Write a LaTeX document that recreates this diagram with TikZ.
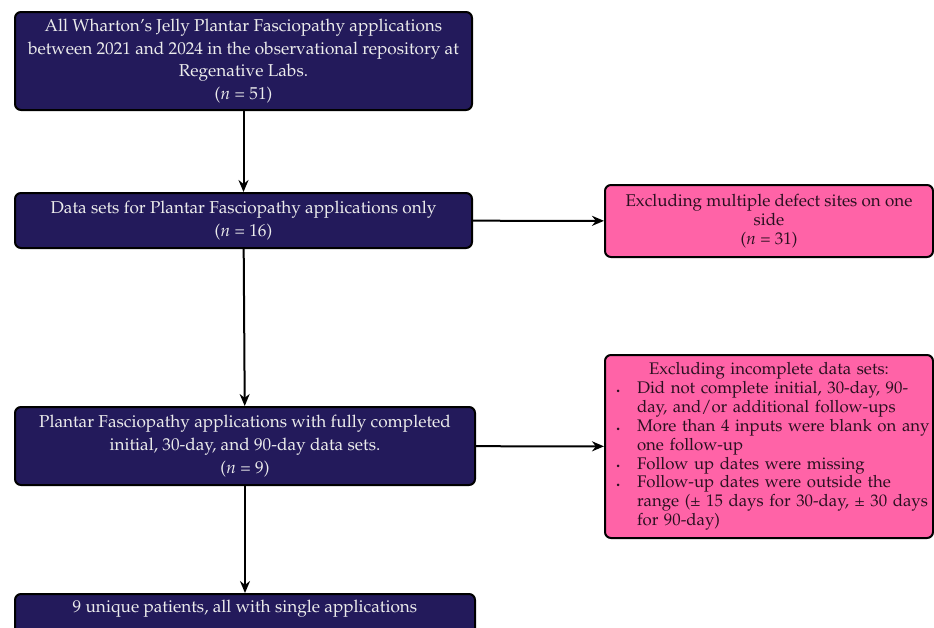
\documentclass[tikz,border=0pt]{standalone}
\usepackage[T1]{fontenc}
\usepackage{mathpazo}
\usepackage{tikz}
\usetikzlibrary{arrows.meta}
\definecolor{navybox}{HTML}{231A5B}
\definecolor{pinkbox}{HTML}{FF63A7}
\definecolor{lighttext}{HTML}{ECECEC}
\definecolor{darktext}{HTML}{2A1020}
\newcommand{\bitem}[1]{\par\noindent\makebox[16pt][l]{\hspace{5.5pt}\raisebox{0.15ex}{\textbf{.}}}\parbox[t]{150pt}{\raggedright #1}}
\tikzset{
  mainbox/.style={draw=black, line width=1pt, rounded corners=3pt, fill=navybox,
    text=lighttext, align=center, inner sep=2pt, font=\fontsize{8.6}{11.35}\selectfont},
  exclbox/.style={draw=black, line width=1pt, rounded corners=3pt, fill=pinkbox,
    text=darktext, inner sep=2pt, font=\fontsize{8.5}{9.4}\selectfont},
  flow/.style={-{Stealth[length=6pt,width=5pt]}, line width=1pt}
}
\begin{document}
\begin{tikzpicture}[x=0.5pt,y=-0.5pt]
\clip (0,0) rectangle (934,628);
\useasboundingbox (0,0) rectangle (934,628);
\node[mainbox, minimum width=228.5pt, minimum height=49pt] (all) at (243.5,61)
  {All Wharton's Jelly Plantar Fasciopathy applications\\between 2021 and 2024 in the observational repository at\\Regenative Labs.\\($n$ = 51)};
\node[mainbox, minimum width=228.5pt, minimum height=27.5pt] (pf) at (243.5,220.5)
  {Data sets for Plantar Fasciopathy applications only\\($n$ = 16)};
\node[mainbox, minimum width=230pt, minimum height=39pt] (full) at (245,446)
  {Plantar Fasciopathy applications with fully completed\\initial, 30-day, and 90-day data sets.\\($n$ = 9)};
\node[mainbox, minimum width=230pt, minimum height=27.5pt, anchor=north] (uniq) at (245,593)
  {9 unique patients, all with single applications\\\strut};
\node[exclbox, align=center, minimum width=164pt, minimum height=36pt] (multi) at (769,221)
  {Excluding multiple defect sites on one\\side\\($n$ = 31)};
\node[exclbox, align=left, minimum width=164pt, minimum height=91.5pt, text width=164pt, inner xsep=0pt,
  font=\fontsize{8.4}{9.4}\selectfont] (incomp) at (769,446.5)
  {\makebox[164pt]{Excluding incomplete data sets:}
  \bitem{Did not complete initial, 30-day, 90-\\day, and/or additional follow-ups}
  \bitem{More than 4 inputs were blank on any\\one follow-up}
  \bitem{Follow up dates were missing}
  \bitem{Follow-up dates were outside the\\range (\textpm{} 15 days for 30-day, \textpm{} 30 days\\for 90-day)}};
\draw[flow] (all) -- (pf);
\draw[flow] (pf) -- (full);
\draw[flow] (full) -- (uniq);
\draw[flow] (pf) -- (multi);
\draw[flow] (full) -- (incomp);
\end{tikzpicture}
\end{document}
